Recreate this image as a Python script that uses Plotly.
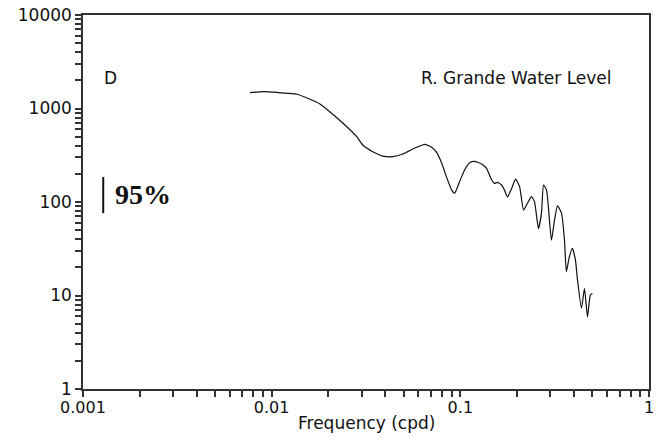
import plotly.graph_objects as go

# Spectrum of R. Grande water level
freq = [0.00767, 0.0090, 0.01017, 0.01205, 0.0136, 0.01596, 0.01803, 0.02032, 0.02382,
        0.02825, 0.0304, 0.03436, 0.03882, 0.04385, 0.04955, 0.056, 0.0588, 0.06471,
        0.0705, 0.075, 0.0796, 0.0848, 0.0900, 0.0933, 0.0991, 0.1054, 0.112, 0.1191,
        0.1297, 0.1377, 0.1466, 0.1517, 0.1574, 0.1656, 0.1714, 0.1778, 0.1866, 0.1963,
        0.2061, 0.2163, 0.2270, 0.2382, 0.2472, 0.2594, 0.2692, 0.2761, 0.2864, 0.3041,
        0.3155, 0.3273, 0.3436, 0.3565, 0.3648, 0.3784, 0.3926, 0.4074, 0.4178, 0.4385,
        0.4550, 0.4721, 0.4887, 0.501]
power = [1476, 1513, 1500, 1454, 1419, 1254, 1117, 924, 700,
         499, 407, 345, 310, 305, 326, 369, 385, 414,
         385, 337, 261, 181, 134, 124, 165, 220, 263, 272,
         255, 229, 172, 158, 162, 152, 134, 113, 138, 176,
         146, 82, 97, 114, 101, 52, 76, 152, 134, 39,
         64, 91, 76, 39, 18, 26, 32, 24, 14.7, 7.3,
         11.9, 5.9, 10.1, 10.5]

# 95% confidence bar
ci_x = [0.00128, 0.00128]
ci_y = [76, 185]

x_major = [0.001, 0.01, 0.1, 1]
x_labels = ["0.001", "0.01", "0.1", "1"]
y_major = [1, 10, 100, 1000, 10000]
y_labels = ["1", "10", "100", "1000", "10000"]

x_minor = [m * 10 ** e for e in (-3, -2, -1) for m in range(2, 10)]
y_minor = [m * 10 ** e for e in (0, 1, 2, 3) for m in range(2, 10)]

W, H = 658, 441
L, R, T, B = 83, 9, 15, 52
pw, ph = W - L - R, H - T - B

def px(x):
    return (x - L) / pw

def py(y):
    return (H - B - y) / ph

fig = go.Figure()
fig.add_trace(go.Scatter(x=freq, y=power, mode="lines",
                         line=dict(color="#111111", width=1.2, shape="spline", smoothing=0.5),
                         showlegend=False, hoverinfo="skip"))
fig.add_trace(go.Scatter(x=ci_x, y=ci_y, mode="lines",
                         line=dict(color="#111111", width=2),
                         showlegend=False, hoverinfo="skip"))

axis_common = dict(
    type="log", showgrid=False, zeroline=False, automargin=False,
    showline=True, linecolor="#333333", linewidth=1.5, mirror=True,
    ticks="outside", ticklen=6, tickwidth=1.5, tickcolor="#333333",
    tickfont=dict(family="DejaVu Sans", size=17, color="#111111"),
)

fig.update_xaxes(**axis_common, range=[-3, 0], tickmode="array",
                 tickvals=x_major, ticktext=x_labels, ticklabelstandoff=-3,
                 minor=dict(tickmode="array", tickvals=x_minor, ticks="outside",
                            ticklen=6, tickwidth=1.5, tickcolor="#333333", showgrid=False))
fig.update_xaxes(tickfont=dict(family="DejaVu Sans", size=16, color="#111111"))
fig.update_yaxes(**axis_common, range=[0, 4], tickmode="array",
                 tickvals=y_major, ticktext=y_labels,
                 minor=dict(tickmode="array", tickvals=y_minor, ticks="outside",
                            ticklen=6, tickwidth=1.5, tickcolor="#333333", showgrid=False))

fig.add_annotation(x=0.5, y=py(423), xref="paper", yref="paper", text="Frequency (cpd)",
                   showarrow=False, xanchor="center", yanchor="middle",
                   font=dict(family="DejaVu Sans", size=17, color="#111111"))
fig.add_annotation(x=px(102), y=py(78), xref="paper", yref="paper", text="D",
                   showarrow=False, xanchor="left", yanchor="middle",
                   font=dict(family="DejaVu Sans", size=17, color="#111111"))
fig.add_annotation(x=px(614), y=py(78), xref="paper", yref="paper",
                   text="R. Grande Water Level", showarrow=False,
                   xanchor="right", yanchor="middle",
                   font=dict(family="DejaVu Sans", size=17, color="#111111"))
fig.add_annotation(x=px(113), y=py(194), xref="paper", yref="paper", text="<b>95%</b>",
                   showarrow=False, xanchor="left", yanchor="middle",
                   font=dict(family="Liberation Serif", size=28, color="#111111"))

fig.update_layout(width=W, height=H, margin=dict(l=L, r=R, t=T, b=B),
                  paper_bgcolor="white", plot_bgcolor="white")

fig.write_html("out.html")
